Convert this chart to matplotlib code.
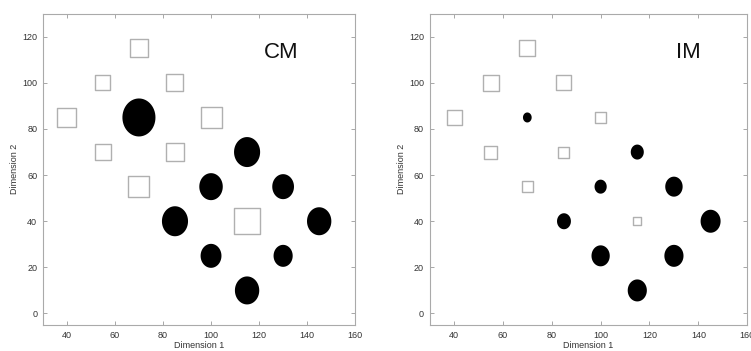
import matplotlib
matplotlib.use("Agg")
import matplotlib.pyplot as plt
import numpy as np
from matplotlib.path import Path

plt.rcParams["font.family"] = ["Liberation Sans", "DejaVu Sans"]

# Square (open) items
sq_x = [40, 55, 55, 70, 70, 85, 85, 100, 115]
sq_y = [85, 100, 70, 115, 55, 100, 70, 85, 40]
sq_cm = [19, 15, 16, 18, 21, 17, 18, 21, 26]
sq_im = [15, 16, 13, 16, 11, 15, 11, 11, 8]

# Circle (filled) items
ci_x = [70, 85, 100, 100, 115, 115, 130, 130, 145]
ci_y = [85, 40, 55, 25, 70, 10, 55, 25, 40]
ci_cm = [38, 30, 27, 24, 30, 28, 25, 22, 28]
ci_im = [10, 16, 14, 21, 15, 22, 20, 22, 23]

panel_titles = ["CM", "IM"]
xticks = [40, 60, 80, 100, 120, 140, 160]
yticks = [0, 20, 40, 60, 80, 100, 120]

# slightly tall ellipse marker
t = np.linspace(0, 2 * np.pi, 60)
ell = Path(np.column_stack([np.cos(t) / 1.15, np.sin(t)]), closed=True)

px2pt = 0.72
fig = plt.figure(figsize=(7.51, 3.51), dpi=100)
ax1 = fig.add_axes([0.057, 0.074, 0.416, 0.887])
ax2 = fig.add_axes([0.572, 0.074, 0.423, 0.887])

for ax, sq_s, ci_s, title, tx in [(ax1, sq_cm, ci_cm, "CM", 129), (ax2, sq_im, ci_im, "IM", 136)]:
    ax.scatter(sq_x, sq_y, s=(np.array(sq_s) * px2pt) ** 2, marker="s",
               facecolors="white", edgecolors="#b0b0b0", linewidths=1.0)
    ax.scatter(ci_x, ci_y, s=(np.array(ci_s) * px2pt) ** 2, marker=ell,
               color="black", linewidths=0)
    ax.set_xlim(30, 160)
    ax.set_ylim(-5, 130)
    ax.set_xticks(xticks)
    ax.set_yticks(yticks)
    ax.tick_params(direction="in", length=3, width=0.6, color="#999999",
                   labelsize=6.5, labelcolor="#333333", top=True, right=True, pad=4)
    for sp in ax.spines.values():
        sp.set_color("#aaaaaa")
        sp.set_linewidth(0.8)
    ax.set_xlabel("Dimension 1", fontsize=6.5, color="#333333", labelpad=1)
    ax.set_ylabel("Dimension 2", fontsize=6.5, color="#333333", labelpad=2)
    ax.text(tx, 113, title, fontsize=16, ha="center", va="center", color="#111111")

fig.savefig("out.png", dpi=100)
